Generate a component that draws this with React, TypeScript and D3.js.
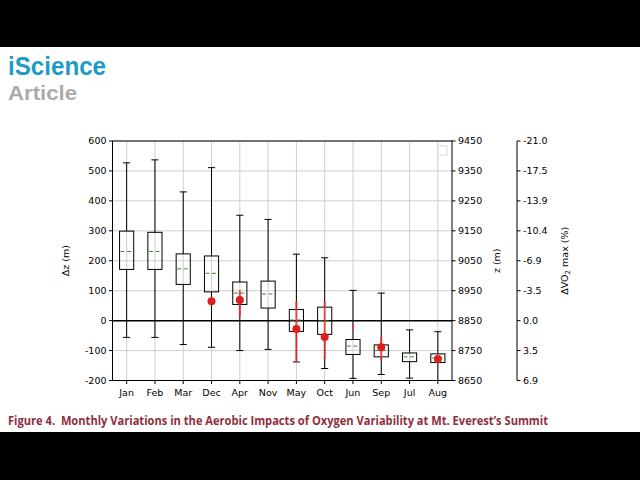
import React from "react";
import * as d3 from "d3";

// month order as plotted (sorted by median)
const months = ["Jan", "Feb", "Mar", "Dec", "Apr", "Nov", "May", "Oct", "Jun", "Sep", "Jul", "Aug"];
const whiskerHigh = [527, 537, 430, 511, 352, 338, 222, 210, 101, 92, -31, -37];
const boxHigh = [299, 295, 223, 216, 129, 132, 37, 45, -63, -81, -108, -111];
const meanVals = [231, 231, 173, 158, 92, 89, 2, -1, -85, -100, -121, -125];
const boxLow = [171, 171, 121, 96, 54, 42, -36, -46, -113, -121, -137, -140];
const whiskerLow = [-56, -56, -80, -89, -100, -96, -138, -160, -193, -180, -192, -205];

// red observations (null where there is none)
const obsVals: (number | null)[] = [null, null, null, 65, 69, null, -28, -55, null, -89, null, -128];
const obsLow: (number | null)[] = [null, null, null, null, 13, null, -138, -128, -30, -130, null, -140];
const obsHigh: (number | null)[] = [null, null, null, null, 102, null, 65, 63, -12, -54, null, -118];

const dzTicks = [600, 500, 400, 300, 200, 100, 0, -100, -200];
const zTicks = [9450, 9350, 9250, 9150, 9050, 8950, 8850, 8750, 8650];
const vo2Ticks = ["-21.0", "-17.5", "-13.9", "-10.4", "-6.9", "-3.5", "0.0", "3.5", "6.9"];
const summitZ = 8850;

const L = 112.5, R = 452, T = 141, B = 380.5;
const font = "DejaVu Sans";

export default function App() {
  const x = d3.scalePoint<string>().domain(months).range([L, R]).padding(0.5);
  const y = d3.scaleLinear().domain([-200, 600]).range([B, T]);
  const step = x.step();
  const bw = step * 0.5;
  const cw = bw * 0.5;
  const red = "#dd1f1f";

  return (
    <div style={{ position: "absolute", left: 0, top: 0 }}>
      <svg width={640} height={480} style={{ display: "block", background: "#fff" }}>
        <rect x={0} y={0} width={640} height={47} fill="#000" />
        <rect x={0} y={432} width={640} height={48} fill="#000" />
        <text x={8} y={75} fontFamily="Liberation Sans" fontWeight={700} fontSize={25} fill="#1e9bc4"
          textLength={98} lengthAdjust="spacingAndGlyphs">iScience</text>
        <text x={8} y={99.5} fontFamily="Liberation Sans" fontWeight={700} fontSize={21} fill="#ababab"
          textLength={69} lengthAdjust="spacingAndGlyphs">Article</text>

        {/* grid */}
        {dzTicks.map((t) => (
          <line key={"gy" + t} x1={L} x2={R} y1={y(t)} y2={y(t)} stroke="#cfcfcf" strokeWidth={1} />
        ))}
        {months.map((m) => (
          <line key={"gx" + m} x1={x(m)} x2={x(m)} y1={T} y2={B} stroke="#cfcfcf" strokeWidth={1} />
        ))}
        <line x1={L} x2={R} y1={y(0)} y2={y(0)} stroke="#000" strokeWidth={1.5} />

        {/* boxes */}
        {months.map((m, i) => {
          const cx = x(m)!;
          return (
            <g key={"b" + m} fill="none" stroke="#000" strokeWidth={1}>
              <line x1={cx} x2={cx} y1={y(boxHigh[i])} y2={y(whiskerHigh[i])} />
              <line x1={cx} x2={cx} y1={y(boxLow[i])} y2={Math.min(y(whiskerLow[i]), B)} />
              <line x1={cx - cw / 2} x2={cx + cw / 2} y1={y(whiskerHigh[i])} y2={y(whiskerHigh[i])} />
              {whiskerLow[i] >= -200 && (
                <line x1={cx - cw / 2} x2={cx + cw / 2} y1={y(whiskerLow[i])} y2={y(whiskerLow[i])} />
              )}
              <rect x={cx - bw / 2} y={y(boxHigh[i])} width={bw} height={y(boxLow[i]) - y(boxHigh[i])} />
              <line x1={cx - bw / 2 + 1} x2={cx + bw / 2 - 1} y1={y(meanVals[i])} y2={y(meanVals[i])}
                stroke="#3a8a3a" strokeDasharray="4,2.5" />
            </g>
          );
        })}

        {/* observations */}
        {months.map((m, i) => {
          const cx = x(m)!;
          const lo = obsLow[i], hi = obsHigh[i], v = obsVals[i];
          return (
            <g key={"o" + m}>
              {lo !== null && hi !== null && (
                <line x1={cx} x2={cx} y1={y(lo)} y2={y(hi)} stroke="#e83030" strokeOpacity={0.85} strokeWidth={2} />
              )}
              {v !== null && <circle cx={cx} cy={y(v)} r={4} fill={red} />}
            </g>
          );
        })}

        {/* frame */}
        <rect x={L} y={T} width={R - L} height={B - T} fill="none" stroke="#000" strokeWidth={1} />
        <rect x={438} y={146} width={9} height={9} fill="#fff" stroke="#d8d8d8" strokeWidth={1} />

        {/* left axis */}
        {dzTicks.map((t) => (
          <g key={"ly" + t}>
            <line x1={L - 3.5} x2={L} y1={y(t)} y2={y(t)} stroke="#000" />
            <text x={L - 6} y={y(t)} dy="0.35em" textAnchor="end" fontFamily={font} fontSize={9.5}>{t}</text>
          </g>
        ))}
        {months.map((m) => (
          <g key={"lx" + m}>
            <line x1={x(m)} x2={x(m)} y1={B} y2={B + 3.5} stroke="#000" />
            <text x={x(m)} y={B + 15} textAnchor="middle" fontFamily={font} fontSize={9.5}>{m}</text>
          </g>
        ))}
        <text transform={`translate(69,${(T + B) / 2}) rotate(-90)`} textAnchor="middle" fontFamily={font} fontSize={9.5}>Δz (m)</text>

        {/* right axis: altitude */}
        {zTicks.map((t) => (
          <g key={"z" + t}>
            <line x1={R} x2={R + 3.5} y1={y(t - summitZ)} y2={y(t - summitZ)} stroke="#000" />
            <text x={R + 6} y={y(t - summitZ)} dy="0.35em" fontFamily={font} fontSize={9.5}>{t}</text>
          </g>
        ))}
        <text transform={`translate(500,${(T + B) / 2}) rotate(-90)`} textAnchor="middle" fontFamily={font} fontSize={9.5}>z (m)</text>

        {/* right axis: VO2 max */}
        <line x1={517} x2={517} y1={T} y2={B} stroke="#000" />
        {vo2Ticks.map((t, i) => (
          <g key={"v" + t}>
            <line x1={517} x2={520.5} y1={y(dzTicks[i])} y2={y(dzTicks[i])} stroke="#000" />
            <text x={523} y={y(dzTicks[i])} dy="0.35em" fontFamily={font} fontSize={9.5}>{t}</text>
          </g>
        ))}
        <text transform={`translate(568,${(T + B) / 2}) rotate(-90)`} textAnchor="middle" fontFamily={font} fontSize={9.5}>
          ΔVO<tspan fontSize={7} dy={2}>2</tspan><tspan dy={-2}> max (%)</tspan>
        </text>

        <text x={8} y={425} fontFamily="Open Sans" fontWeight={700} fontSize={11.5} fill="#8e2f3b"
          textLength={540} lengthAdjust="spacingAndGlyphs">
          Figure 4.{"\u00a0\u00a0"}Monthly Variations in the Aerobic Impacts of Oxygen Variability at Mt. Everest’s Summit
        </text>
      </svg>
    </div>
  );
}
